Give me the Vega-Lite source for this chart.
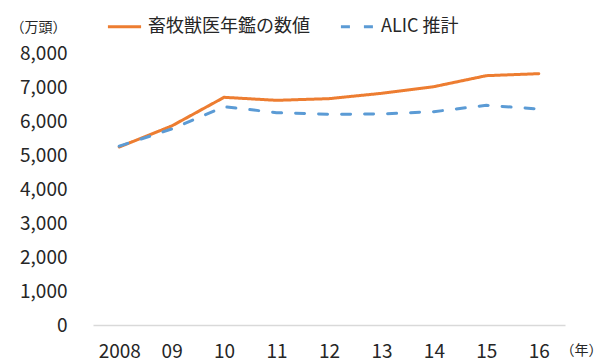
{
  "$schema": "https://vega.github.io/schema/vega-lite/v6.json",
  "width": 472,
  "height": 272,
  "autosize": "none",
  "padding": {"left": 93, "top": 53, "right": 38, "bottom": 36},
  "background": "white",
  "config": {
    "view": {"stroke": null},
    "font": "Noto Sans CJK JP"
  },
  "data": {
    "values": [
      {"year": "2008", "series": "畜牧獣医年鑑の数値", "value": 5235},
      {"year": "09", "series": "畜牧獣医年鑑の数値", "value": 5853},
      {"year": "10", "series": "畜牧獣医年鑑の数値", "value": 6697},
      {"year": "11", "series": "畜牧獣医年鑑の数値", "value": 6608},
      {"year": "12", "series": "畜牧獣医年鑑の数値", "value": 6657},
      {"year": "13", "series": "畜牧獣医年鑑の数値", "value": 6814},
      {"year": "14", "series": "畜牧獣医年鑑の数値", "value": 7010},
      {"year": "15", "series": "畜牧獣医年鑑の数値", "value": 7333},
      {"year": "16", "series": "畜牧獣医年鑑の数値", "value": 7392},
      {"year": "2008", "series": "ALIC 推計", "value": 5260},
      {"year": "09", "series": "ALIC 推計", "value": 5765},
      {"year": "10", "series": "ALIC 推計", "value": 6421},
      {"year": "11", "series": "ALIC 推計", "value": 6245},
      {"year": "12", "series": "ALIC 推計", "value": 6196},
      {"year": "13", "series": "ALIC 推計", "value": 6206},
      {"year": "14", "series": "ALIC 推計", "value": 6275},
      {"year": "15", "series": "ALIC 推計", "value": 6461},
      {"year": "16", "series": "ALIC 推計", "value": 6353}
    ]
  },
  "mark": {"type": "line", "strokeWidth": 3, "strokeCap": "round"},
  "encoding": {
    "x": {
      "field": "year",
      "type": "ordinal",
      "sort": null,
      "scale": {"type": "point", "padding": 0.5},
      "axis": {
        "title": "（年）",
        "titleFontSize": 14,
        "titleFontWeight": "normal",
        "titleColor": "#262626",
        "titleAlign": "left",
        "titleBaseline": "middle",
        "titleX": 467,
        "titleY": 25,
        "labelAngle": 0,
        "labelFontSize": 19,
        "labelColor": "#262626",
        "labelPadding": 17,
        "ticks": false,
        "domainColor": "#d9d9d9",
        "domainWidth": 1.5,
        "grid": false
      }
    },
    "y": {
      "field": "value",
      "type": "quantitative",
      "scale": {"domain": [0, 8000]},
      "axis": {
        "title": "（万頭）",
        "titleFontSize": 14,
        "titleFontWeight": "normal",
        "titleColor": "#262626",
        "titleAngle": 0,
        "titleAlign": "left",
        "titleBaseline": "middle",
        "titleX": -83,
        "titleY": -26,
        "values": [0, 1000, 2000, 3000, 4000, 5000, 6000, 7000, 8000],
        "format": ",d",
        "labelFontSize": 19,
        "labelColor": "#262626",
        "labelPadding": 26,
        "ticks": false,
        "domain": false,
        "grid": false
      }
    },
    "color": {
      "field": "series",
      "type": "nominal",
      "scale": {"domain": ["畜牧獣医年鑑の数値", "ALIC 推計"], "range": ["#ED7D31", "#5B9BD5"]},
      "legend": {
        "title": null,
        "orient": "none",
        "direction": "horizontal",
        "legendX": 13,
        "legendY": -45,
        "symbolType": "stroke",
        "symbolSize": 1100,
        "symbolStrokeWidth": 3,
        "labelFontSize": 18,
        "labelColor": "#262626",
        "labelOffset": 5,
        "labelLimit": 0,
        "columnPadding": 24
      }
    },
    "strokeDash": {
      "field": "series",
      "type": "nominal",
      "scale": {"domain": ["畜牧獣医年鑑の数値", "ALIC 推計"], "range": [[1, 0], [9, 14]]},
      "legend": null
    }
  }
}
